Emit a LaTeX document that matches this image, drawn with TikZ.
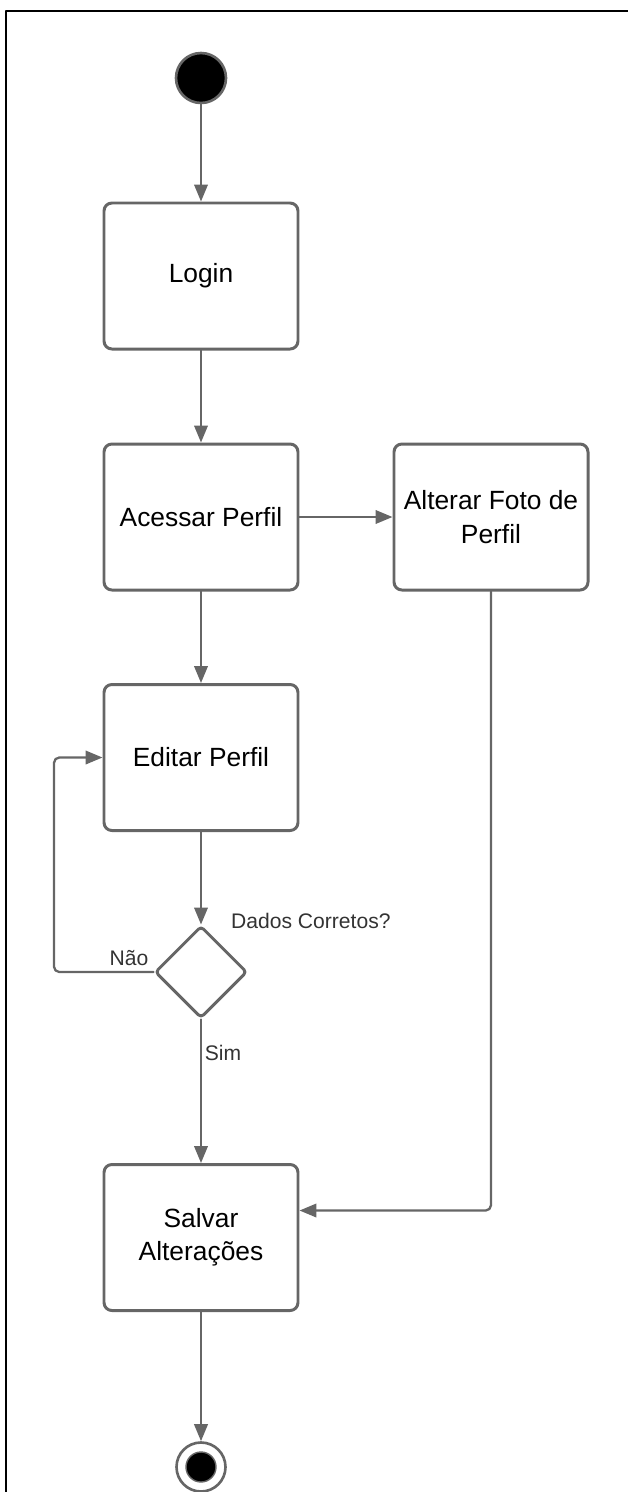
\documentclass[tikz,border=0pt]{standalone}
\usepackage{fontspec}
\setmainfont{Liberation Sans}
\usetikzlibrary{positioning}
\usetikzlibrary{shapes.geometric}
\usetikzlibrary{arrows.meta,calc}
\definecolor{linegray}{HTML}{666666}
\definecolor{labelgray}{HTML}{333333}
\tikzstyle{every node}=[font=\fontsize{15}{19}\selectfont]
\tikzstyle{every path}=[line cap=round,line join=round]
\tikzstyle{activity}=[draw=linegray,line width=1.7pt,rounded corners=4.5pt,minimum width=3.88cm,minimum height=2.92cm,align=center,fill=white]
\tikzstyle{decision}=[diamond,draw=linegray,line width=1.7pt,rounded corners=2pt,minimum width=1.84cm,minimum height=1.84cm,inner sep=0pt,fill=white]
\tikzstyle{flow}=[draw=linegray,line width=1.3pt,-{Triangle[length=3.4mm,width=2.7mm]}]
\tikzstyle{guard}=[font=\fontsize{12}{14}\selectfont,text=labelgray]

\begin{document}
\begin{tikzpicture}
  \useasboundingbox (0,0) rectangle (12.56,-29.84);
  \draw[line width=1.2pt] (0.12,-29.9)--(0.12,-0.22)--(12.6,-0.22);
  \node[circle,fill=black,draw=linegray,line width=1.5pt,minimum size=1cm,inner sep=0pt] (inicio) at (4.02,-1.56) {};
  \node[activity] (login) at (4.02,-5.52) {Login};
  \node[activity] (acessar) at (4.02,-10.34) {Acessar Perfil};
  \node[activity] (alterar) at (9.82,-10.34) {Alterar Foto de\\Perfil};
  \node[activity] (editar) at (4.02,-15.15) {Editar Perfil};
  \node[decision] (dados) at (4.02,-19.44) {};
  \node[activity] (salvar) at (4.02,-24.75) {Salvar\\Alterações};
  \node[circle,draw=linegray,line width=1.5pt,minimum size=0.98cm,inner sep=0pt] (fim) at (4.02,-29.34) {};
  \node[circle,fill=black,draw=linegray,line width=0.8pt,minimum size=0.6cm,inner sep=0pt] (fimponto) at (fim) {};
  % guardas
  \node[guard,anchor=west] (pergunta) at (4.5,-18.42) {Dados Corretos?};
  \node[guard] (nao) at (2.58,-19.16) {Não};
  \node[guard] (sim) at (4.46,-21.06) {Sim};
  \coordinate (volta) at (1.08,-19.44);
  \draw[flow] (inicio)--(login);
  \draw[flow] (login)--(acessar);
  \draw[flow] (acessar)--(alterar);
  \draw[flow] (acessar)--(editar);
  \draw[flow] (editar)--(dados);
  \draw[flow,rounded corners=3pt] (dados.west)--(volta)|-(editar.west);
  \draw[flow] (dados)--(salvar);
  \draw[flow,rounded corners=3pt] (alterar.south)|-([yshift=0.54cm]salvar.east);
  \draw[flow] (salvar)--(fim);
\end{tikzpicture}
\end{document}
